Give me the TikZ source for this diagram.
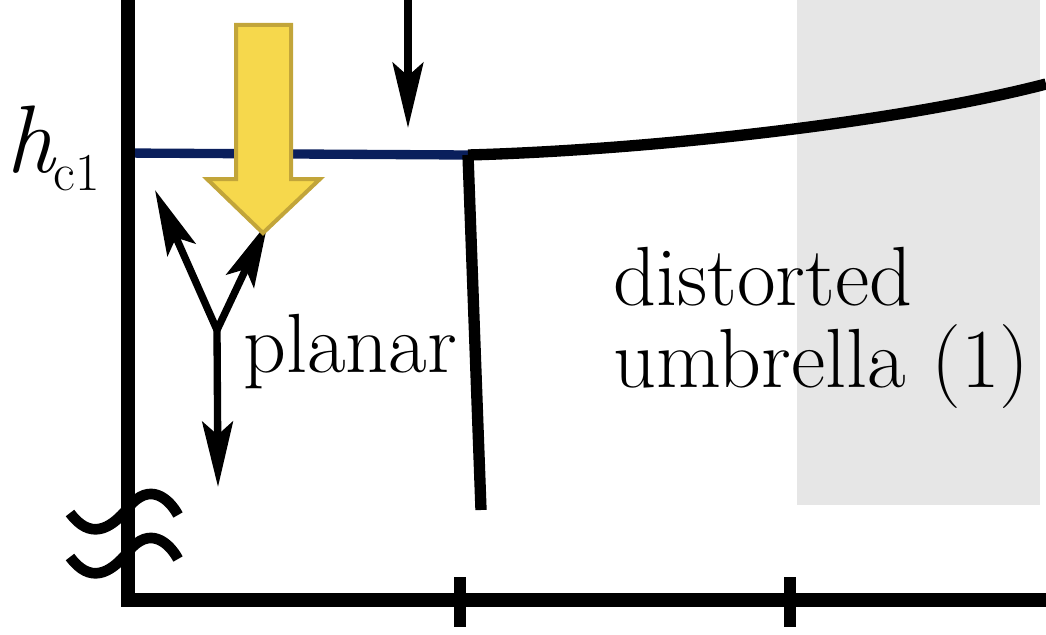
\documentclass[tikz,border=0pt]{standalone}
\usepackage{fontspec}
\usetikzlibrary{arrows.meta}
\definecolor{navy}{HTML}{0A1F5C}
\definecolor{ylw}{HTML}{F6D84C}
\definecolor{ylwb}{HTML}{C2A53A}
\definecolor{bggray}{HTML}{E6E6E6}
\begin{document}
\begin{tikzpicture}[x=0.75pt,y=-0.75pt,
  axis/.style={line width=10pt},
  bound/.style={line width=8.5pt},
  arr/.style={line width=5.5pt,-{Stealth[length=49pt,width=23pt,inset=10pt]}},
  lbl/.style={inner sep=0pt,anchor=base west,font=\fontsize{63}{70}\selectfont\addfontfeatures{FakeStretch=0.91,FakeBold=0.8}}]
\useasboundingbox (0,0) rectangle (1046,635);
\fill[bggray] (797,0) rectangle (1040,505);
% boundaries
\coordinate (T) at (468,155);
\draw[navy,line width=7pt] (122,153) -- (T);
\draw[bound] (T) .. controls (650,150) and (900,122) .. (1046,84);
\coordinate (B) at (481,510);
\draw[bound] (T) -- (B);
% axes
\coordinate (O) at (128,600);
\draw[axis] (128,0) -- (O) -- (1046,600);
\foreach \x in {460,790}{
  \draw[line width=9pt] (\x,577) -- (\x,627);
}
% axis break
\draw[line width=8pt] (70,513) .. controls (90,540) and (110,530) .. (128,508) .. controls (150,480) and (170,500) .. (178,515);
\draw[line width=8pt] (70,557) .. controls (90,584) and (110,574) .. (128,552) .. controls (150,524) and (170,544) .. (178,559);
% arrows
\coordinate (J) at (217,330);
\coordinate (LT) at (155,190);
\coordinate (RT) at (268,222);
\coordinate (DT) at (218,487);
\coordinate (A0) at (408,0);
\coordinate (A1) at (408,128);
\draw[arr] (J) -- (LT);
\draw[arr] (J) -- (RT);
\draw[arr] (J) -- (DT);
\draw[arr] (A0) -- (A1);
% yellow arrow
\filldraw[fill=ylw,draw=ylwb,line width=3pt,line join=miter]
  (236,25) -- (291,25) -- (291,179) -- (320,179) -- (263,233) -- (207,179) -- (236,179) -- cycle;
% labels
\node[lbl] (hc) at (6,172) {\fontsize{72}{76}\selectfont\textit{h}\kern-2pt\raisebox{-13.5pt}{\fontsize{40}{44}\selectfont\addfontfeatures{FakeStretch=0.91,FakeBold=0.8}c1}};
\node[lbl] (planar) at (243,372) {planar};
\node[lbl] (dist) at (613,305) {distorted};
\node[lbl] (umb) at (613,387) {umbrella (1)};
\end{tikzpicture}
\end{document}
